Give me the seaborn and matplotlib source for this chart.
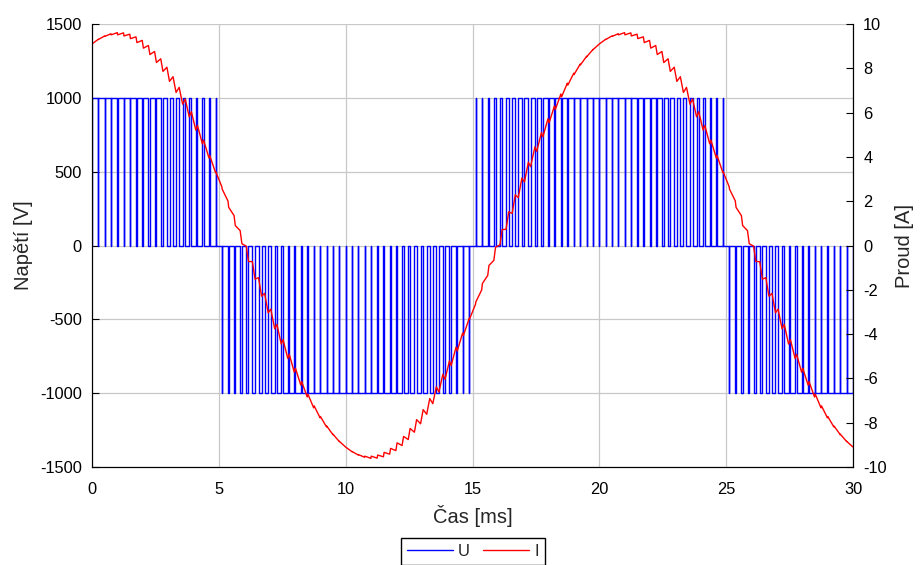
import numpy as np
import pandas as pd
import matplotlib
matplotlib.use("Agg")
import matplotlib.pyplot as plt
import seaborn as sns
from matplotlib.lines import Line2D

sns.set_theme(style="white")
plt.rcParams['font.family'] = ['Liberation Sans', 'DejaVu Sans']
plt.rcParams['axes.unicode_minus'] = False

# ---------------- data ----------------
carrier_period_ms = 0.25          # PWM carrier period
voltage_level_V = 1000            # DC level of the pulses
# signed duty cycle of each carrier period (0 .. 30 ms, 120 periods)
pwm_duty = [
    0.999, 0.993, 0.981, 0.962, 0.938, 0.908, 0.872, 0.831, 0.785, 0.734,
    0.679, 0.619, 0.556, 0.489, 0.419, 0.346, 0.271, 0.195, 0.118, 0.039,
    -0.039, -0.118, -0.195, -0.271, -0.346, -0.419, -0.489, -0.556, -0.619, -0.679,
    -0.734, -0.785, -0.831, -0.872, -0.908, -0.938, -0.962, -0.981, -0.993, -0.999,
    -0.999, -0.993, -0.981, -0.962, -0.938, -0.908, -0.872, -0.831, -0.785, -0.734,
    -0.679, -0.619, -0.556, -0.489, -0.419, -0.346, -0.271, -0.195, -0.118, -0.039,
    0.039, 0.118, 0.195, 0.271, 0.346, 0.419, 0.489, 0.556, 0.619, 0.679,
    0.734, 0.785, 0.831, 0.872, 0.908, 0.938, 0.962, 0.981, 0.993, 0.999,
    0.999, 0.993, 0.981, 0.962, 0.938, 0.908, 0.872, 0.831, 0.785, 0.734,
    0.679, 0.619, 0.556, 0.489, 0.419, 0.346, 0.271, 0.195, 0.118, 0.039,
    -0.039, -0.118, -0.195, -0.271, -0.346, -0.419, -0.489, -0.556, -0.619, -0.679,
    -0.734, -0.785, -0.831, -0.872, -0.908, -0.938, -0.962, -0.981, -0.993, -0.999,
]
# current at t = 0 ms, at both switching instants of each carrier period, and at t = 30 ms
current_start_A = 9.10
current_at_switching_A = [
    9.1, 9.31, 9.3, 9.46, 9.44, 9.56, 9.51, 9.61, 9.51, 9.6,
    9.46, 9.54, 9.34, 9.42, 9.16, 9.26, 8.91, 9.03, 8.62, 8.76,
    8.26, 8.43, 7.86, 8.05, 7.41, 7.62, 6.91, 7.14, 6.38, 6.61,
    5.81, 6.04, 5.21, 5.42, 4.59, 4.76, 3.95, 4.07, 3.29, 3.33,
    2.65, 2.55, 2.01, 1.72, 1.35, 0.9, 0.67, 0.08, -0.03, -0.72,
    -0.73, -1.52, -1.45, -2.29, -2.16, -3.04, -2.87, -3.76, -3.56, -4.45,
    -4.25, -5.1, -4.91, -5.72, -5.54, -6.3, -6.14, -6.84, -6.71, -7.33,
    -7.24, -7.78, -7.72, -8.19, -8.15, -8.54, -8.52, -8.85, -8.84, -9.1,
    -9.1, -9.31, -9.3, -9.46, -9.44, -9.56, -9.51, -9.61, -9.51, -9.6,
    -9.46, -9.54, -9.34, -9.42, -9.16, -9.26, -8.91, -9.03, -8.62, -8.76,
    -8.26, -8.43, -7.86, -8.05, -7.41, -7.62, -6.91, -7.14, -6.38, -6.61,
    -5.81, -6.04, -5.21, -5.42, -4.59, -4.76, -3.95, -4.07, -3.29, -3.33,
    -2.65, -2.55, -2.01, -1.72, -1.35, -0.9, -0.67, -0.08, 0.03, 0.72,
    0.73, 1.52, 1.45, 2.29, 2.16, 3.04, 2.87, 3.76, 3.56, 4.45,
    4.25, 5.1, 4.91, 5.72, 5.54, 6.3, 6.14, 6.84, 6.71, 7.33,
    7.24, 7.78, 7.72, 8.19, 8.15, 8.54, 8.52, 8.85, 8.84, 9.1,
    9.1, 9.31, 9.3, 9.46, 9.44, 9.56, 9.51, 9.61, 9.51, 9.6,
    9.46, 9.54, 9.34, 9.42, 9.16, 9.26, 8.91, 9.03, 8.62, 8.76,
    8.26, 8.43, 7.86, 8.05, 7.41, 7.62, 6.91, 7.14, 6.38, 6.61,
    5.81, 6.04, 5.21, 5.42, 4.59, 4.76, 3.95, 4.07, 3.29, 3.33,
    2.65, 2.55, 2.01, 1.72, 1.35, 0.9, 0.67, 0.08, -0.03, -0.72,
    -0.73, -1.52, -1.45, -2.29, -2.16, -3.04, -2.87, -3.76, -3.56, -4.45,
    -4.25, -5.1, -4.91, -5.72, -5.54, -6.3, -6.14, -6.84, -6.71, -7.33,
    -7.24, -7.78, -7.72, -8.19, -8.15, -8.54, -8.52, -8.85, -8.84, -9.1,
]
current_end_A = -9.10
x_ticks = [0, 5, 10, 15, 20, 25, 30]
u_ticks = [-1500, -1000, -500, 0, 500, 1000, 1500]
i_ticks = [-10, -8, -6, -4, -2, 0, 2, 4, 6, 8, 10]
series_names = ["U", "I"]

# ---------------- build line tables ----------------
T = carrier_period_ms
t_end = T * len(pwm_duty)
tv, uv, ti = [], [], [0.0]
for kk, d in enumerate(pwm_duty):
    t0 = kk * T
    on = t0 + (1 - abs(d)) * T / 2
    off = t0 + (1 + abs(d)) * T / 2
    lvl = voltage_level_V * np.sign(d)
    tv += [t0, on, on, off, off]
    uv += [0, 0, lvl, lvl, 0]
    ti += [on, off]
tv.append(t_end); uv.append(0)
ti.append(t_end)
ii = [current_start_A] + current_at_switching_A + [current_end_A]

dfu = pd.DataFrame({"t": tv, "u": uv})
dfi = pd.DataFrame({"t": ti, "i": ii})

# ---------------- plot ----------------
fig = plt.figure(figsize=(9.21, 5.65), dpi=100)
ax = fig.add_axes([92/921, 1-467/565, (853-92)/921, (467-24)/565])
ax2 = ax.twinx()
sns.lineplot(data=dfu, x="t", y="u", ax=ax, color="#0000ff", lw=1.0, sort=False, estimator=None)
sns.lineplot(data=dfi, x="t", y="i", ax=ax2, color="#ff0000", lw=1.0, sort=False, estimator=None)
ax.set_xlim(x_ticks[0], x_ticks[-1]); ax.set_ylim(u_ticks[0], u_ticks[-1]); ax2.set_ylim(i_ticks[0], i_ticks[-1])
ax.set_xticks(x_ticks); ax.set_yticks(u_ticks)
ax2.set_yticks(i_ticks)
ax.grid(True, color="#c8c8c8", lw=0.9)
ax2.grid(False)
fs = 11.8
lfs = 14.5
ax.spines["top"].set_visible(False); ax2.spines["top"].set_visible(False)
for a_ in (ax, ax2):
    for s in a_.spines.values():
        s.set_color("black"); s.set_linewidth(0.8)
ax.tick_params(axis="both", direction="in", length=5, width=0.8, labelsize=fs, colors="black")
ax.tick_params(axis="x", pad=10.5)
ax.tick_params(axis="y", pad=7.3)
ax2.tick_params(direction="in", length=5, width=0.8, labelsize=fs, pad=7.3, colors="black")
ax.set_xlabel("Čas [ms]", fontsize=lfs, labelpad=6)
ax.set_ylabel("Napětí [V]", fontsize=lfs, labelpad=5)
ax2.set_ylabel("Proud [A]", fontsize=lfs, labelpad=6)
handles = [Line2D([], [], color="#0000ff", lw=1.0), Line2D([], [], color="#ff0000", lw=1.0)]
fig.legend(handles, series_names, loc="upper center", bbox_to_anchor=(473/921, 1-538/565), ncol=2,
           fontsize=12, frameon=True, fancybox=False, edgecolor="black", framealpha=1,
           handlelength=2.75, handletextpad=0.3, columnspacing=0.8, borderpad=0.35,
           borderaxespad=0)
fig.savefig("out.png", dpi=100)
